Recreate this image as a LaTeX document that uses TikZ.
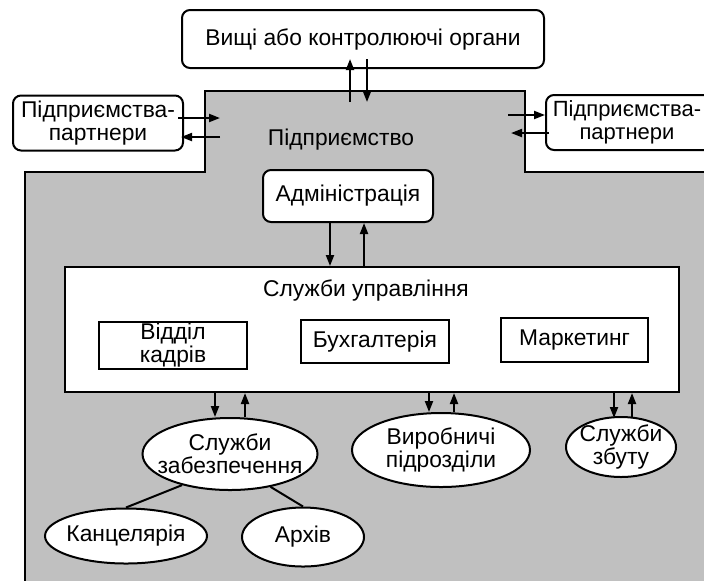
\documentclass[tikz,border=0pt]{standalone}
\usepackage{fontspec}
\setmainfont{Liberation Sans}
\usepackage{tikz}
\usetikzlibrary{arrows.meta}
\usetikzlibrary{shapes}
\usetikzlibrary{calc}
\definecolor{ent grey}{RGB}{192,192,192}
\tikzstyle{rbox}=[draw,fill=white,rounded corners=4pt,align=center,inner sep=0.5pt]
\tikzstyle{sbox}=[draw,fill=white,align=center,inner sep=0.5pt]

\begin{document}
\begin{tikzpicture}[
  x=0.5pt,y=-0.5pt,
  line width=1pt,
  font=\fontsize{11.4}{11.5}\selectfont,
  arr/.style={-{Triangle[length=5.5pt,width=4pt]}},
  oval/.style={draw,fill=white,ellipse,inner sep=0pt},
  oval text/.style={label={[align=center]center:#1}},
]
\useasboundingbox (0,0) rectangle (704,580);
% enterprise area
\draw[fill=ent grey] (205,91) -- (525,91) -- (525,172) -- (720,172) -- (720,600)
  -- (25,600) -- (25,172) -- (205,172) -- cycle;

\node[rbox,minimum width=181pt,minimum height=29pt] (organy) at (363,39) {Вищі або контролюючі органи};
\node[rbox,minimum width=85pt,minimum height=27.5pt] (lpartner) at (98,123) {Підприємства-\\партнери};
\node[rbox,minimum width=95pt,minimum height=27.5pt] (rpartner) at (641,122.5) {};
\node[align=center,font=\fontsize{11}{11.5}\selectfont] (rpartnertext) at (627,122.5) {Підприємства-\\партнери};
\node (pidpr) at (341,140) {Підприємство};
\node[rbox,minimum width=85pt,minimum height=26pt] (admin) at (348,196) {Адміністрація};

% management services
\node[sbox,minimum width=307pt,minimum height=62.5pt] (upr) at (372,329.5) {};
\node (uprtitle) at (366,290) {Служби управління};
\node[sbox,minimum width=74pt,minimum height=22.5pt,font=\fontsize{11.4}{10}\selectfont] (kadry) at (173,345.5) {Відділ\\кадрів};
\node[sbox,minimum width=74pt,minimum height=21.5pt] (buh) at (375,341.5) {Бухгалтерія};
\node[sbox,minimum width=73.5pt,minimum height=22pt] (market) at (574.5,340) {Маркетинг};

% lower units
\node[oval,minimum width=87.5pt,minimum height=36pt,oval text={Служби\\забезпечення}] (zabez) at (230,454) {};
\node[oval,minimum width=89pt,minimum height=37pt,oval text={Виробничі\\підрозділи}] (vyrob) at (441,450) {};
\node[oval,minimum width=55pt,minimum height=30pt,oval text={Служби\\збуту}] (zbut) at (621,447) {};
\node[oval,minimum width=81pt,minimum height=27.5pt,oval text={Канцелярія}] (kanc) at (126,536) {};
\node[oval,minimum width=61pt,minimum height=29.5pt,oval text={Архів}] (arkhiv) at (303,537) {};

% links
\draw[arr] ([xshift=-6.5pt,yshift=-16.5pt]organy.south) -- ([xshift=-6.5pt,yshift=5pt]organy.south);
\draw[arr] ([xshift=2pt,yshift=5pt]organy.south) -- ([xshift=2pt,yshift=-16.5pt]organy.south);
\draw[arr] ([xshift=-3pt,yshift=2.5pt]lpartner.east) -- ([xshift=18pt,yshift=2.5pt]lpartner.east);
\draw[arr] ([xshift=18pt,yshift=-7pt]lpartner.east) -- ([xshift=-1.5pt,yshift=-7pt]lpartner.east);
\draw[arr] ([xshift=-18.5pt,yshift=3.75pt]rpartner.west) -- ([yshift=3.75pt]rpartner.west);
\draw[arr] ([xshift=2pt,yshift=-5.25pt]rpartner.west) -- ([xshift=-17pt,yshift=-5.25pt]rpartner.west);
\draw[arr] ([xshift=-9pt]admin.south) -- ([xshift=-9pt]admin.south |- upr.north);
\draw[arr] ([xshift=8pt]admin.south |- upr.north) -- ([xshift=8pt]admin.south);
\draw[arr] ([xshift=-7.5pt]zabez.north |- upr.south) -- ([xshift=-7.5pt]zabez.north);
\draw[arr] ([xshift=7.5pt]zabez.north) -- ([xshift=7.5pt]zabez.north |- upr.south);
\draw[arr] ([xshift=-6pt]vyrob.north |- upr.south) -- ([xshift=-6pt]vyrob.north);
\draw[arr] ([xshift=6.5pt]vyrob.north) -- ([xshift=6.5pt]vyrob.north |- upr.south);
\draw[arr] ([xshift=-3.5pt]zbut.north |- upr.south) -- ([xshift=-3.5pt,yshift=-1pt]zbut.north);
\draw[arr] ([xshift=5.5pt,yshift=-1pt]zbut.north) -- ([xshift=5.5pt]zbut.north |- upr.south);
\draw (zabez.213) -- (kanc.north);
\draw (zabez.321) -- (arkhiv.north);
\end{tikzpicture}
\end{document}
